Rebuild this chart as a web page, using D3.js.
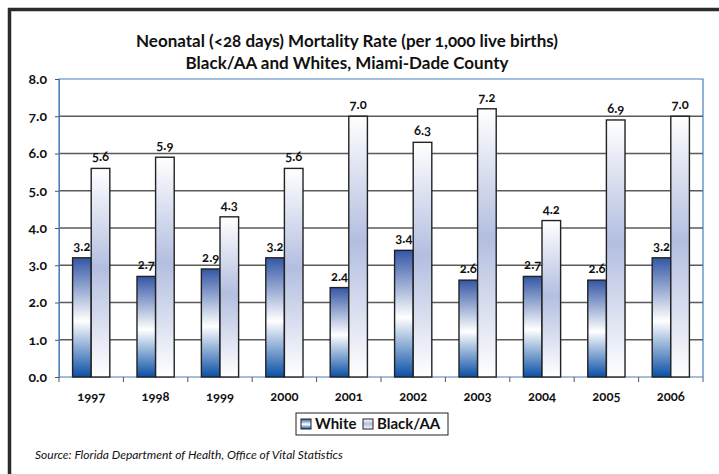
<!DOCTYPE html>
<html>
<head>
<meta charset="utf-8">
<script src="https://cdn.jsdelivr.net/npm/d3@7"></script>
<style>
  body { margin: 0; background: #fff; }
  svg text { font-family: Lato, "Open Sans", sans-serif; font-variant-numeric: oldstyle-nums; }
</style>
</head>
<body>
<div id="d3-container"></div>
<script>
/* CONSTANTS AND GLOBALS */
const width = 719,
  height = 474,
  margin = { top: 79, bottom: 97, left: 59, right: 16 };

/* DATA */
const years = ["1997", "1998", "1999", "2000", "2001", "2002", "2003", "2004", "2005", "2006"];
const seriesNames = ["White", "Black/AA"];
const whiteRates = [3.2, 2.7, 2.9, 3.2, 2.4, 3.4, 2.6, 2.7, 2.6, 3.2];
const blackRates = [5.6, 5.9, 4.3, 5.6, 7.0, 6.3, 7.2, 4.2, 6.9, 7.0];
const yTicks = [0, 1, 2, 3, 4, 5, 6, 7, 8];

const svg = d3.select("#d3-container")
  .append("svg")
  .attr("width", width)
  .attr("height", height);

// gradients for the bars
const defs = svg.append("defs");
const gWhite = defs.append("linearGradient").attr("id", "gradWhite")
  .attr("x1", 0).attr("y1", 0).attr("x2", 0).attr("y2", 1);
gWhite.append("stop").attr("offset", "0%").attr("stop-color", "#3356a6");
gWhite.append("stop").attr("offset", "53%").attr("stop-color", "#ffffff");
gWhite.append("stop").attr("offset", "100%").attr("stop-color", "#0a4fa6");

const gBlack = defs.append("linearGradient").attr("id", "gradBlack")
  .attr("x1", 0).attr("y1", 0).attr("x2", 0).attr("y2", 1);
gBlack.append("stop").attr("offset", "0%").attr("stop-color", "#ffffff");
gBlack.append("stop").attr("offset", "48%").attr("stop-color", "#b3bee0");
gBlack.append("stop").attr("offset", "100%").attr("stop-color", "#ffffff");

// outer frame (top and left edges)
svg.append("path")
  .attr("d", `M9.5,${height} V9.5 H${width}`)
  .attr("fill", "none")
  .attr("stroke", "#2b2b2b")
  .attr("stroke-width", 3.5);

/* SCALES */
const xScale = d3.scaleBand()
  .domain(years)
  .range([margin.left, width - margin.right]);

const xInner = d3.scaleBand()
  .domain(seriesNames)
  .range([0, xScale.bandwidth()])
  .paddingOuter(0.73);

const yScale = d3.scaleLinear()
  .domain([0, 8])
  .range([height - margin.bottom, margin.top]);

// gridlines
svg.append("g")
  .selectAll("line")
  .data(yTicks.filter(d => d > 0 && d < 8))
  .join("line")
  .attr("x1", margin.left)
  .attr("x2", width - margin.right)
  .attr("y1", d => yScale(d))
  .attr("y2", d => yScale(d))
  .attr("stroke", "#5a5a5a")
  .attr("stroke-width", 1.3);

// plot area border (blue)
svg.append("path")
  .attr("d", `M${margin.left},${yScale(0)} V${yScale(8)} H${width - margin.right} V${yScale(0)}`)
  .attr("fill", "none")
  .attr("stroke", "#4a7ebb")
  .attr("stroke-width", 1.2);

/* AXES */
const yAxis = d3.axisLeft(yScale)
  .tickValues(yTicks)
  .tickFormat(d3.format(".1f"))
  .tickSize(4)
  .tickPadding(8);

const yAxisGroup = svg.append("g")
  .attr("transform", `translate(${margin.left},0)`)
  .call(yAxis);
yAxisGroup.select(".domain").attr("stroke", "#4a7ebb");
yAxisGroup.selectAll(".tick line").attr("stroke", "#555");
yAxisGroup.selectAll("text")
  .attr("font-size", 14)
  .attr("font-weight", "bold")
  .attr("fill", "#111");

// x axis: ticks at group boundaries
const xAxisGroup = svg.append("g")
  .attr("transform", `translate(0,${yScale(0)})`);
xAxisGroup.append("line")
  .attr("x1", margin.left)
  .attr("x2", width - margin.right)
  .attr("stroke", "#4a7ebb")
  .attr("stroke-width", 1.2);
xAxisGroup.selectAll(".bound")
  .data(years.concat(["end"]))
  .join("line")
  .attr("class", "bound")
  .attr("x1", (d, i) => margin.left + i * xScale.step())
  .attr("x2", (d, i) => margin.left + i * xScale.step())
  .attr("y1", 0)
  .attr("y2", 5)
  .attr("stroke", "#555");
xAxisGroup.selectAll(".year")
  .data(years)
  .join("text")
  .attr("class", "year")
  .attr("x", d => xScale(d) + xScale.bandwidth() / 2)
  .attr("y", 24)
  .attr("text-anchor", "middle")
  .attr("font-size", 13)
  .attr("font-weight", "bold")
  .attr("fill", "#111")
  .text(d => d);

/* BARS */
const fmt = d3.format(".1f");

function drawSeries(values, name, fill) {
  svg.append("g")
    .selectAll("rect")
    .data(values)
    .join("rect")
    .attr("x", (d, i) => xScale(years[i]) + xInner(name))
    .attr("y", d => yScale(d))
    .attr("width", xInner.bandwidth())
    .attr("height", d => yScale(0) - yScale(d))
    .attr("fill", fill)
    .attr("stroke", "#222")
    .attr("stroke-width", 1.4);

  svg.append("g")
    .selectAll("text")
    .data(values)
    .join("text")
    .attr("x", (d, i) => xScale(years[i]) + xInner(name) + xInner.bandwidth() / 2)
    .attr("y", d => yScale(d) - 7)
    .attr("text-anchor", "middle")
    .attr("font-size", 13)
    .attr("font-weight", "bold")
    .attr("fill", "#111")
    .text(d => fmt(d));
}

drawSeries(whiteRates, "White", "url(#gradWhite)");
drawSeries(blackRates, "Black/AA", "url(#gradBlack)");

/* TITLE */
const title = svg.append("text")
  .attr("x", 347)
  .attr("text-anchor", "middle")
  .attr("font-size", 17)
  .attr("font-weight", "bold")
  .attr("fill", "#111");
title.append("tspan").attr("x", 347).attr("y", 47)
  .text("Neonatal (<28 days) Mortality Rate (per 1,000 live births)");
title.append("tspan").attr("x", 347).attr("y", 69)
  .text("Black/AA and Whites, Miami-Dade County");

/* LEGEND */
const legend = svg.append("g").attr("transform", "translate(296,413)");
legend.append("rect")
  .attr("width", 152)
  .attr("height", 22)
  .attr("fill", "#fff")
  .attr("stroke", "#222")
  .attr("stroke-width", 1);
const legendItems = [
  { name: seriesNames[0], fill: "url(#gradWhite)", x: 5 },
  { name: seriesNames[1], fill: "url(#gradBlack)", x: 67 }
];
const li = legend.selectAll(".item")
  .data(legendItems)
  .join("g")
  .attr("class", "item")
  .attr("transform", d => `translate(${d.x},6)`);
li.append("rect")
  .attr("width", 10)
  .attr("height", 10)
  .attr("fill", d => d.fill)
  .attr("stroke", "#222")
  .attr("stroke-width", 1);
li.append("text")
  .attr("x", 14)
  .attr("y", 10)
  .attr("font-size", 15)
  .attr("font-weight", "bold")
  .attr("fill", "#111")
  .text(d => d.name);

/* SOURCE */
svg.append("text")
  .attr("x", 35)
  .attr("y", 459)
  .attr("font-size", 12)
  .attr("font-style", "italic")
  .attr("fill", "#111")
  .text("Source: Florida Department of Health, Office of Vital Statistics");
</script>
</body>
</html>
